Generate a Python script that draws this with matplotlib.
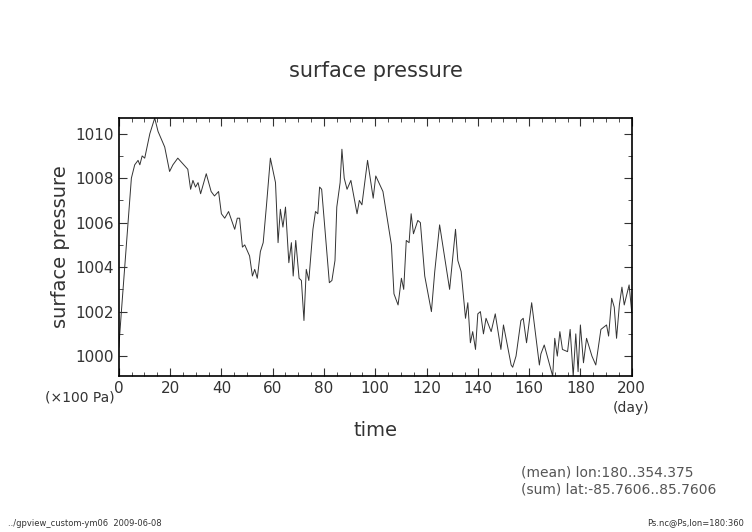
import matplotlib
matplotlib.use("Agg")
import matplotlib.pyplot as plt
from matplotlib.ticker import MultipleLocator

days = [0,1.0,2.3,3.6,4.9,6.2,7.5,8.2,9.1,10.1,12.1,14,15.3,17.9,19.8,21.1,23,26.9,28,28.9,29.9,30.9,31.9,34.1,36,37.3,38.9,40,41.3,42.8,45.2,46.2,47.1,48.2,49.1,51,52.1,53,54,55.2,56.3,57.6,59.1,61.1,62.1,63,64,65,66.3,67.3,68,69,70.3,71.2,72.2,73.1,74.1,75.7,76.7,77.6,78.3,79.1,82.1,83.1,84.3,85,86.3,87,87.9,89,90.5,92.9,93.8,94.8,97,
        99.2,100.2,103,106.3,107.3,108.9,110.2,111.1,112.1,113.2,114,114.9,116.6,117.6,119.3,121.9,123.2,125.1,129,131.3,132.2,133.5,135.2,136.1,137.1,138,139.1,140,141,142.2,143.2,145.2,146.8,149,150,153,153.6,154.9,156.8,157.7,159,161,162.3,164,164.6,165.9,169.2,170,171,172,173,175,176,177.2,178.2,179.1,180,181.2,182.4,184.5,186,188,190.2,191,192.2,193.2,194.1,195.2,196.2,197.1,199,200]
ps = [1000.4,1002,1004,1006.0,1008,1008.6,1008.8,1008.6,1009.0,1008.9,1010,1010.7,1010.1,1009.4,1008.3,1008.6,1008.9,1008.4,1007.5,1007.9,1007.6,1007.8,1007.3,1008.2,1007.4,1007.2,1007.4,1006.4,1006.2,1006.5,1005.7,1006.2,1006.2,1004.9,1005.0,1004.5,1003.6,1003.9,1003.5,1004.7,1005.1,1006.8,1008.9,1007.8,1005.1,1006.6,1005.8,1006.7,1004.2,1005.1,1003.6,1005.2,1003.5,1003.4,1001.6,1003.9,1003.4,1005.7,1006.5,1006.4,1007.6,1007.5,1003.3,1003.4,1004.3,1006.7,1007.8,1009.3,1008.0,1007.5,1007.9,1006.4,1007.0,1006.8,1008.8,
      1007.1,1008.1,1007.4,1005.0,1002.8,1002.3,1003.5,1003.0,1005.2,1005.1,1006.4,1005.5,1006.1,1006.0,1003.6,1002.0,1003.8,1005.9,1003.0,1005.7,1004.3,1003.8,1001.7,1002.4,1000.6,1001.1,1000.3,1001.9,1002.0,1001.0,1001.7,1001.1,1001.9,1000.3,1001.4,999.6,999.5,1000.0,1001.6,1001.7,1000.6,1002.4,1001.2,999.6,1000.1,1000.5,999.1,1000.8,1000.0,1001.1,1000.3,1000.2,1001.2,999.1,1001.0,999.3,1001.4,999.7,1000.8,1000.0,999.6,1001.2,1001.4,1000.9,1002.6,1002.2,1000.8,1002.3,1003.1,1002.3,1003.2,1002.0]

fig = plt.figure(figsize=(7.52, 5.32), dpi=100)
ax = fig.add_axes([0.158, 0.293, 0.682, 0.485])
ax.plot(days, ps, color="#333333", lw=0.7)
ax.set_xlim(0, 200)
ax.set_ylim(999.1, 1010.7)
ax.xaxis.set_major_locator(MultipleLocator(20))
ax.xaxis.set_minor_locator(MultipleLocator(5))
ax.yaxis.set_major_locator(MultipleLocator(2))
ax.yaxis.set_minor_locator(MultipleLocator(1))
ax.tick_params(which="both", direction="in", top=True, right=True, labelsize=11, colors="#333333")
ax.tick_params(which="major", length=6)
ax.tick_params(which="minor", length=3)
for s in ax.spines.values():
    s.set_linewidth(1.2)
ax.set_xlabel("time", fontsize=14, labelpad=18, color="#333333")
ax.set_ylabel("surface pressure", fontsize=14, color="#333333")
fig.text(0.5, 0.855, "surface pressure", ha="center", fontsize=15, color="#333333")
fig.text(0.06, 0.245, "(×100 Pa)", fontsize=10, color="#333333")
fig.text(0.815, 0.225, "(day)", fontsize=10, color="#333333")
fig.text(0.693, 0.105, "(mean) lon:180..354.375", fontsize=10, color="#555555")
fig.text(0.693, 0.072, "(sum) lat:-85.7606..85.7606", fontsize=10, color="#555555")
fig.text(0.01, 0.012, "../gpview_custom-ym06  2009-06-08", fontsize=6, color="#333333")
fig.text(0.99, 0.012, "Ps.nc@Ps,lon=180:360", fontsize=6, color="#333333", ha="right")
fig.savefig("out.png")
